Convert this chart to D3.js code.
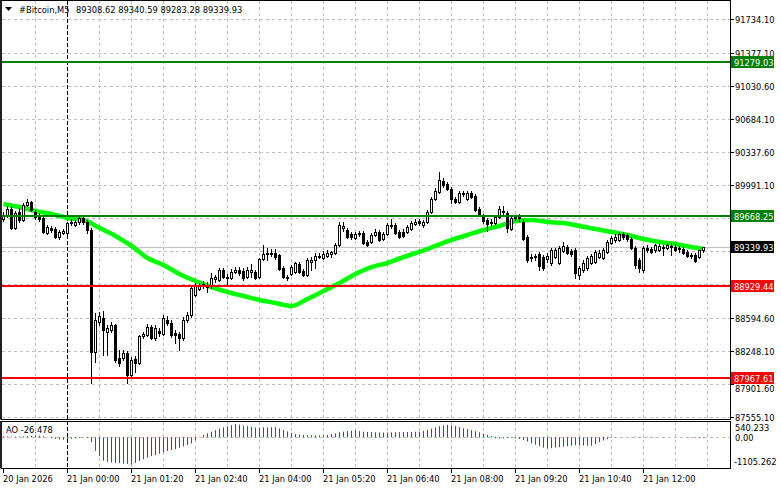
<!DOCTYPE html>
<html><head><meta charset="utf-8">
<script src="https://cdn.jsdelivr.net/npm/d3@7"></script>
<style>
html,body{margin:0;padding:0;background:#fff;overflow:hidden;}
svg{display:block;font-family:"DejaVu Sans",sans-serif;}
</style></head><body>
<svg id="c" width="781" height="489"></svg>
<script>
// ---------------- DATA ----------------
const symbol = "#Bitcoin,M5";
const lastOHLC = [89308.62, 89340.59, 89283.28, 89339.93];

const opens = [89634,89676,89739,89540,89708,89624,89781,89813,89708,89676,
89645,89487,89540,89529,89445,89487,89487,89592,89571,89603,
89645,89603,89519,88238,88553,88595,88448,88469,88521,88175,
88175,88227,87996,88164,88122,88406,88416,88500,88385,88458,
88427,88574,88542,88437,88427,88385,88574,88626,88836,88899,
88931,88920,88941,89004,88994,89099,89025,89015,89078,89099,
89088,89025,89078,89078,89025,89214,89267,89277,89277,89256,
89120,89025,89057,89078,89162,89088,89046,89183,89204,89235,
89225,89246,89267,89277,89361,89540,89519,89477,89435,89477,
89487,89393,89393,89466,89498,89424,89477,89561,89571,89498,
89498,89498,89529,89582,89613,89571,89603,89708,89844,89918,
90034,90002,89949,89844,89813,89897,89844,89907,89876,89739,
89666,89624,89592,89592,89655,89718,89697,89529,89645,89655,
89603,89445,89225,89235,89267,89235,89214,89172,89235,89172,
89298,89340,89298,89309,89046,89099,89120,89172,89183,89235,
89225,89288,89382,89414,89414,89477,89466,89424,89330,89204,
89099,89330,89319,89309,89309,89340,89330,89351,89340,89319,
89319,89288,89246,89256,89235,89308.62];

const highs = [89708,89771,89760,89718,89750,89802,89844,89823,89729,89697,
89666,89571,89561,89550,89519,89529,89603,89634,89624,89655,
89666,89624,89540,88647,88658,88668,88521,88553,88532,88259,
88259,88248,88185,88196,88416,88448,88532,88521,88521,88490,
88626,88616,88574,88469,88448,88605,88658,88941,88962,88962,
88983,88973,89067,89046,89120,89120,89057,89109,89130,89130,
89120,89130,89162,89099,89225,89361,89330,89319,89319,89267,
89141,89046,89151,89183,89183,89109,89225,89235,89277,89277,
89298,89309,89298,89382,89603,89603,89540,89498,89498,89508,
89508,89414,89487,89529,89519,89498,89592,89634,89592,89519,
89529,89571,89613,89634,89634,89624,89729,89865,89960,90128,
90065,90023,89970,89865,89928,89928,89928,89928,89897,89760,
89687,89645,89634,89676,89771,89771,89718,89666,89676,89687,
89634,89466,89267,89267,89288,89256,89277,89330,89330,89351,
89393,89361,89319,89330,89141,89204,89246,89267,89309,89309,
89330,89414,89456,89477,89498,89498,89487,89445,89351,89225,
89351,89361,89340,89372,89372,89361,89382,89382,89372,89351,
89340,89309,89277,89277,89309,89340.59];

const lows = [89613,89655,89529,89529,89603,89613,89771,89718,89634,89613,
89487,89477,89498,89435,89424,89477,89477,89571,89561,89582,
89582,89487,87912,88133,88521,88206,88206,88448,88133,88091,
88154,87912,87986,88028,88112,88385,88406,88374,88364,88406,
88416,88521,88395,88332,88259,88364,88553,88605,88826,88889,
88910,88868,88910,88973,88983,89015,88952,89004,89067,89046,
88994,89015,89025,89004,89015,89204,89204,89246,89214,89099,
89015,88994,89046,89067,89067,89036,89036,89099,89120,89225,
89214,89235,89235,89267,89351,89508,89435,89424,89424,89456,
89372,89351,89382,89456,89403,89414,89466,89540,89477,89435,
89445,89487,89519,89571,89571,89550,89592,89697,89834,89907,
89970,89939,89802,89802,89802,89876,89834,89855,89718,89666,
89592,89508,89571,89582,89645,89676,89498,89519,89624,89613,
89414,89183,89193,89204,89099,89099,89183,89151,89225,89162,
89288,89267,89246,89015,89004,89078,89099,89162,89172,89225,
89214,89277,89372,89393,89403,89424,89403,89319,89120,89078,
89078,89288,89277,89288,89298,89256,89319,89256,89298,89288,
89267,89235,89225,89183,89225,89283.28];

const closes = [89676,89739,89540,89697,89624,89781,89813,89729,89655,89634,
89498,89550,89519,89445,89498,89508,89592,89603,89603,89645,
89603,89519,88238,88574,88616,88469,88490,88521,88154,88122,
88227,87996,88154,88122,88406,88427,88500,88385,88490,88437,
88595,88542,88416,88416,88385,88574,88626,88910,88931,88941,
88952,88941,89015,89025,89099,89025,89015,89078,89099,89067,
89015,89099,89099,89015,89214,89267,89277,89267,89235,89109,
89025,89015,89130,89172,89078,89046,89204,89204,89246,89246,
89267,89277,89288,89361,89571,89561,89445,89445,89477,89487,
89382,89361,89466,89498,89414,89477,89571,89571,89487,89445,
89456,89550,89592,89603,89592,89603,89708,89844,89928,90044,
89991,89949,89844,89813,89907,89907,89907,89865,89729,89676,
89613,89582,89603,89655,89739,89708,89540,89645,89655,89645,
89424,89204,89235,89246,89141,89120,89246,89309,89309,89330,
89351,89277,89267,89067,89120,89172,89225,89246,89288,89277,
89309,89393,89435,89445,89477,89445,89424,89330,89151,89120,
89330,89309,89288,89361,89351,89330,89361,89340,89309,89330,
89277,89246,89256,89193,89309,89339.93];

// moving average read every 4th bar
const maBars = [0,4,8,12,16,20,24,28,32,36,40,44,48,52,56,60,64,68,72,76,80,84,88,92,96,100,104,108,112,116,120,124,128,132,136,140,144,148,152,156,160,164,168,172,175];
const maValues = [89792,89760,89718,89687,89645,89624,89540,89456,89351,89225,89151,89057,88983,88920,88868,88826,88784,88752,88721,88794,88878,88962,89057,89130,89172,89235,89288,89351,89414,89466,89519,89561,89613,89624,89603,89592,89561,89529,89498,89466,89424,89393,89372,89340,89319];

// Awesome Oscillator
const aoValues = [40,35,30,25,30,40,50,60,70,65,
40,10,-30,-60,-90,-100,-80,-60,-45,-30,
-20,-30,-200,-550,-750,-950,-1000,-1020,-1040,-1050,
-1060,-1080,-1105.262,-1040,-958,-891,-824,-757,-717,-664,
-610,-557,-517,-477,-423,-370,-316,-249,-120,20,
90,160,230,290,350,400,440,490,540.233,510,
480,450,420,390,395,400,405,410,415,360,
300,240,170,130,110,95,85,80,75,70,
80,95,130,160,200,230,250,265,275,250,
230,215,210,200,195,190,195,200,205,210,
210,215,220,225,230,260,300,350,400,450,
480,505,480,450,410,370,330,290,250,200,
150,100,50,-40,-50,-45,-30,-25,-40,-70,
-110,-170,-240,-300,-360,-420,-460,-440,-420,-400,
-380,-360,-340,-320,-330,-335,-340,-345,-280,-200,
-130,-70,-25,-10,5,10,5,15,20,15,
10,20,15,12,10,8,5,3,0,-3,
-6,-10,-14,-18,-22,-26.478];
const aoMax = 540.233, aoMin = -1105.262;

const resistanceLevels = [91279.03, 89668.25];
const supportLevels = [88929.44, 87967.61];
const priceTicks = [91734.10,91377.10,91030.60,90684.10,90337.60,89991.10,89644.60,89298.10,88951.60,88594.60,88248.10,87901.60,87555.10];
const timeLabels = ["20 Jan 2026","21 Jan 00:00","21 Jan 01:20","21 Jan 02:40","21 Jan 04:00","21 Jan 05:20","21 Jan 06:40","21 Jan 08:00","21 Jan 09:20","21 Jan 10:40","21 Jan 12:00"];
const barsPerLabel = 16, barsPerGrid = 8, daySeparatorBar = 16;

// ---------------- LAYOUT ----------------
const svg = d3.select("#c");
const PR = 730, MB = 419, AT = 421, AB = 468;
const FS = "8.3px";
const GREEN = "#008000", RED = "#ff0000", LIME = "#00ff00", GRID = "#c0c0c0";

const x = d3.scaleLinear().domain([0, 175]).range([3.5, 703.5]);
const y = d3.scaleLinear().domain([91734.10, 87555.10]).range([19, 417]);
const ry = v => Math.round(y(v));
const ao = d3.scaleLinear().domain([aoMin, aoMax]).range([464.5, 424]);

svg.append("rect").attr("width", 781).attr("height", 489).attr("fill", "#fff");

const defs = svg.append("defs");
defs.append("clipPath").attr("id", "clipMain").append("rect").attr("x", 2).attr("y", 1).attr("width", PR - 2).attr("height", MB - 1);
defs.append("clipPath").attr("id", "clipAO").append("rect").attr("x", 2).attr("y", AT + 1).attr("width", PR - 2).attr("height", AB - AT - 1);

// grid
const grid = svg.append("g");
grid.selectAll("line.h").data(priceTicks).join("line")
  .attr("x1", 2).attr("x2", PR).attr("y1", d => ry(d) + 0.5).attr("y2", d => ry(d) + 0.5)
  .attr("stroke", GRID).attr("stroke-dasharray", "3,3");
const gridBars = d3.range(barsPerGrid, 177, barsPerGrid).filter(b => b !== daySeparatorBar);
grid.selectAll("line.v").data(gridBars).join("line")
  .attr("x1", d => x(d)).attr("x2", d => x(d)).attr("y1", 1).attr("y2", MB)
  .attr("stroke", GRID).attr("stroke-dasharray", "3,3");
grid.selectAll("line.va").data(gridBars).join("line")
  .attr("x1", d => x(d)).attr("x2", d => x(d)).attr("y1", AT + 1).attr("y2", AB)
  .attr("stroke", GRID).attr("stroke-dasharray", "3,3");
grid.append("line").attr("x1", 2).attr("x2", PR).attr("y1", Math.round(ao(0)) + 0.5).attr("y2", Math.round(ao(0)) + 0.5)
  .attr("stroke", GRID).attr("stroke-dasharray", "3,3");

// bid line
svg.append("line").attr("x1", 2).attr("x2", PR)
  .attr("y1", ry(lastOHLC[3]) + 0.5).attr("y2", ry(lastOHLC[3]) + 0.5).attr("stroke", GRID);

// day separator
svg.append("line").attr("x1", x(daySeparatorBar)).attr("x2", x(daySeparatorBar)).attr("y1", 1).attr("y2", AB)
  .attr("stroke", "#000").attr("stroke-dasharray", "4,2");

const main = svg.append("g").attr("clip-path", "url(#clipMain)");

// MA
const maLine = d3.line().x(d => x(d[0])).y(d => y(d[1])).curve(d3.curveMonotoneX);
main.append("path").datum(maBars.map((b, k) => [b, maValues[k]]))
  .attr("d", maLine).attr("fill", "none").attr("stroke", LIME).attr("stroke-width", 4.5);

// candles
const bars = opens.map((o, i) => ({ i, o, h: highs[i], l: lows[i], c: closes[i] }));
const cg = main.append("g");
cg.selectAll("line").data(bars).join("line")
  .attr("x1", d => x(d.i)).attr("x2", d => x(d.i))
  .attr("y1", d => ry(d.h)).attr("y2", d => ry(d.l) + 1)
  .attr("stroke", "#000");
cg.selectAll("rect").data(bars).join("rect")
  .attr("x", d => x(d.i) - 1)
  .attr("y", d => ry(Math.max(d.o, d.c)) + 0.5)
  .attr("width", 2)
  .attr("height", d => Math.max(ry(Math.min(d.o, d.c)) - ry(Math.max(d.o, d.c)), 0))
  .attr("fill", d => d.c >= d.o ? "#fff" : "#000")
  .attr("stroke", "#000");

// level lines
main.selectAll("line.res").data(resistanceLevels).join("line")
  .attr("x1", 2).attr("x2", PR).attr("y1", d => ry(d)).attr("y2", d => ry(d))
  .attr("stroke", GREEN).attr("stroke-width", 2);
main.selectAll("line.sup").data(supportLevels).join("line")
  .attr("x1", 2).attr("x2", PR).attr("y1", d => ry(d)).attr("y2", d => ry(d))
  .attr("stroke", RED).attr("stroke-width", 2);

// AO histogram
const aog = svg.append("g").attr("clip-path", "url(#clipAO)");
aog.selectAll("line").data(aoValues).join("line")
  .attr("x1", (d, i) => x(i)).attr("x2", (d, i) => x(i))
  .attr("y1", ao(0)).attr("y2", d => ao(d))
  .attr("stroke", (d, i) => (i === 0 ? RED : (d >= aoValues[i - 1] ? GREEN : RED)))
  .attr("stroke-width", 1);

// frames
svg.append("rect").attr("x", 1).attr("y", 0.5).attr("width", PR - 0.5).attr("height", MB)
  .attr("fill", "none").attr("stroke", "#000").attr("stroke-width", 1);
svg.append("line").attr("x1", 1).attr("x2", 1).attr("y1", 0).attr("y2", MB).attr("stroke", "#000").attr("stroke-width", 1.5);
svg.append("rect").attr("x", 1).attr("y", AT + 0.5).attr("width", PR - 0.5).attr("height", AB - AT)
  .attr("fill", "none").attr("stroke", "#000").attr("stroke-width", 1);
svg.append("line").attr("x1", 1).attr("x2", 1).attr("y1", AT).attr("y2", AB).attr("stroke", "#000").attr("stroke-width", 1.5);

// price axis ticks and labels (labels hidden behind the level tags are not drawn;
// a label just below a tag is nudged clear of it)
const tagLevels = resistanceLevels.concat(supportLevels, [lastOHLC[3]]);
const visibleTicks = priceTicks.filter(t => tagLevels.every(v => Math.abs(ry(v) - ry(t)) >= 5));
const labelY = t => {
  let yy = ry(t) + 3.5;
  tagLevels.forEach(v => {
    const tb = ry(v) + 6;
    if (ry(t) > ry(v) && yy - 7.5 < tb) yy = tb + 8;
  });
  return yy;
};
const ax = svg.append("g").attr("font-size", FS).attr("fill", "#000");
ax.selectAll("line").data(priceTicks).join("line")
  .attr("x1", PR).attr("x2", PR + 4).attr("y1", d => ry(d) + 0.5).attr("y2", d => ry(d) + 0.5).attr("stroke", "#000");
ax.selectAll("text").data(visibleTicks).join("text")
  .attr("x", 735).attr("y", labelY).text(d => d.toFixed(2));

// level label boxes
function tag(v, col) {
  const yc = ry(v);
  svg.append("rect").attr("x", 731).attr("y", yc - 6).attr("width", 43).attr("height", 12).attr("fill", col);
  svg.append("text").attr("x", 734).attr("y", yc + 3.5).attr("font-size", FS).attr("fill", "#fff").text(v.toFixed(2));
}
resistanceLevels.forEach(v => tag(v, GREEN));
supportLevels.forEach(v => tag(v, RED));
tag(lastOHLC[3], "#000");

// AO axis labels
const aoAx = svg.append("g").attr("font-size", FS).attr("fill", "#000");
aoAx.append("text").attr("x", 735).attr("y", ao(aoMax) + 7).text(aoMax.toFixed(3));
aoAx.append("text").attr("x", 735).attr("y", ao(0) + 3.5).text((0).toFixed(2));
aoAx.append("text").attr("x", 734).attr("y", ao(aoMin) + 0).text(aoMin.toFixed(3));
svg.append("text").attr("x", 6).attr("y", 433).attr("font-size", FS).attr("fill", "#000")
  .text("AO " + aoValues[aoValues.length - 1].toFixed(3));

// time axis
const ta = svg.append("g").attr("font-size", FS).attr("fill", "#000");
ta.selectAll("line").data(timeLabels).join("line")
  .attr("x1", (d, k) => x(k * barsPerLabel)).attr("x2", (d, k) => x(k * barsPerLabel))
  .attr("y1", AB).attr("y2", AB + 5).attr("stroke", "#000");
ta.selectAll("text").data(timeLabels).join("text")
  .attr("x", (d, k) => x(k * barsPerLabel) - 0.5).attr("y", 482).text(d => d);

// header
svg.append("path").attr("d", "M5,7 L12,7 L8.5,11 Z").attr("fill", "#000");
svg.append("text").attr("x", 19).attr("y", 13).attr("font-size", FS).attr("fill", "#000").text(symbol);
svg.append("text").attr("x", 76).attr("y", 13).attr("font-size", FS).attr("fill", "#000")
  .text(lastOHLC.map(v => v.toFixed(2)).join(" "));
</script>
</body></html>
